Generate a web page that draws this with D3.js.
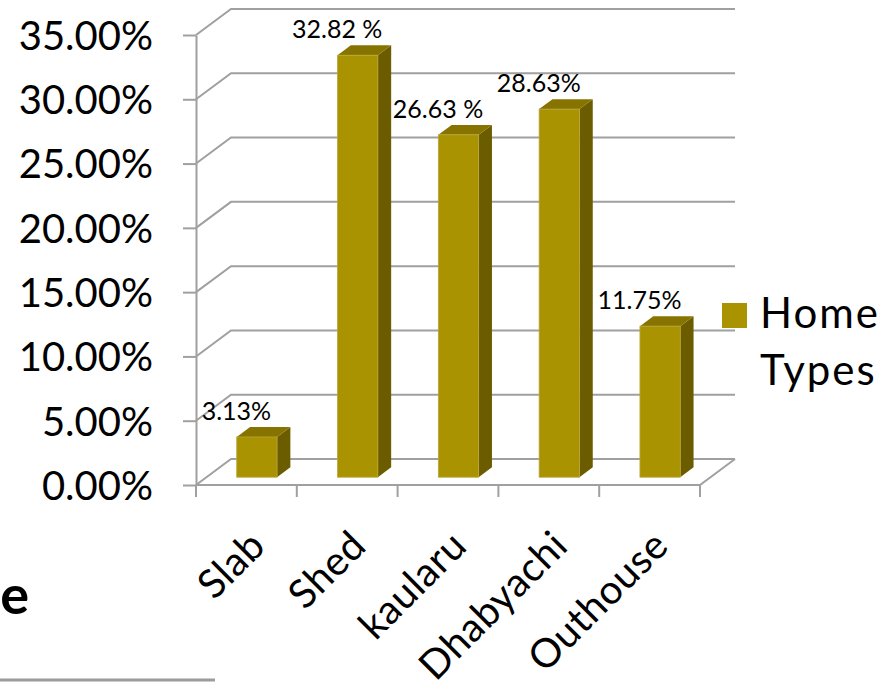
<!DOCTYPE html>
<html>
<head>
<meta charset="utf-8">
<script src="https://cdn.jsdelivr.net/npm/d3@7"></script>
<style>
  html, body { margin: 0; padding: 0; background: #fff; }
  svg { display: block; font-family: Lato, "Open Sans", sans-serif; }
</style>
</head>
<body>
<svg id="chart" width="886" height="690"></svg>
<script>
// Share of each home type
const categories = ["Slab", "Shed", "kaularu", "Dhabyachi", "Outhouse"];
const values = [3.13, 32.82, 26.63, 28.63, 11.75];
const valueLabels = ["3.13%", "32.82 %", "26.63 %", "28.63%", "11.75%"];
const yTicks = [0, 5, 10, 15, 20, 25, 30, 35];
const seriesName = ["Home", "Types"];

const svg = d3.select("#chart");

// Front plane of the 3-D plot box
const plotLeft = 196, plotRight = 700, plotBottom = 485, plotTop = 35;
// Offset of the back wall relative to the front plane
const depthX = 35, depthY = -26;

const x = d3.scaleBand().domain(categories).range([plotLeft, plotRight]).padding(0);
const y = d3.scaleLinear().domain([0, 35]).range([plotBottom, plotTop]);

const gridColor = "#a0a0a0";
const faceFront = "#a99300";
const faceTop = "#877400";
const faceSide = "#6c5c00";

// Projection: point on the front plane pushed back by a depth fraction
const px = (xv, d) => xv + depthX * d;
const py = (yv, d) => yv + depthY * d;

// Back wall gridlines with their side-wall diagonal
const grid = svg.append("g").attr("fill", "none").attr("stroke", gridColor).attr("stroke-width", 2);
yTicks.forEach(t => {
  const yy = y(t);
  grid.append("path").attr("d",
    `M${plotLeft},${yy} L${px(plotLeft, 1)},${py(yy, 1)} L${px(plotRight, 1)},${py(yy, 1)}`);
});
// Floor outline
grid.append("path").attr("d",
  `M${plotLeft},${plotBottom} L${plotRight},${plotBottom} L${px(plotRight, 1)},${py(plotBottom, 1)}`);

// Y axis
const yAxis = d3.axisLeft(y)
  .tickValues(yTicks)
  .tickFormat(d => d.toFixed(2) + "%")
  .tickSize(13)
  .tickSizeOuter(0)
  .tickPadding(30);
const gy = svg.append("g").attr("transform", `translate(${plotLeft},0)`).call(yAxis);
gy.select(".domain").attr("stroke", gridColor).attr("stroke-width", 2);
gy.selectAll(".tick line").attr("stroke", gridColor).attr("stroke-width", 2);
gy.selectAll(".tick text")
  .attr("font-family", "Lato, sans-serif")
  .attr("font-size", 40)
  .attr("fill", "#000")
  .attr("dy", "0.36em");

// X axis ticks at category boundaries
const bounds = categories.map(c => x(c)).concat([x(categories[categories.length - 1]) + x.bandwidth()]);
svg.append("g").selectAll("line").data(bounds).join("line")
  .attr("x1", d => d).attr("x2", d => d)
  .attr("y1", plotBottom).attr("y2", plotBottom + 12)
  .attr("stroke", gridColor).attr("stroke-width", 2);

// Rotated category labels
svg.append("g").selectAll("text").data(categories).join("text")
  .attr("transform", d => `translate(${x(d) + x.bandwidth() / 2 + 21},${plotBottom + 63}) rotate(-45)`)
  .attr("text-anchor", "end")
  .attr("font-size", 40)
  .attr("letter-spacing", 0.5)
  .attr("fill", "#000")
  .text(d => d);

// 3-D bars
const barFrac = 0.4;              // share of the slot used by a bar
const dFront = 0.3, dBack = 0.68; // bar depth range inside the box
const bars = svg.append("g");
categories.forEach((c, i) => {
  const w = x.bandwidth() * barFrac;
  const x0 = px(x(c) + (x.bandwidth() - w) / 2, dFront);
  const x1 = x0 + w;
  const y0 = py(y(0), dFront);
  const y1 = py(y(values[i]), dFront);
  const ddx = depthX * (dBack - dFront);
  const ddy = depthY * (dBack - dFront);
  const g = bars.append("g");
  // side face
  g.append("path").attr("fill", faceSide)
    .attr("d", `M${x1},${y1} L${x1 + ddx},${y1 + ddy} L${x1 + ddx},${y0 + ddy} L${x1},${y0} Z`);
  // top face
  g.append("path").attr("fill", faceTop)
    .attr("d", `M${x0},${y1} L${x0 + ddx},${y1 + ddy} L${x1 + ddx},${y1 + ddy} L${x1},${y1} Z`);
  // front face
  g.append("rect").attr("fill", faceFront)
    .attr("stroke", "#b9a63a").attr("stroke-width", 0.8)
    .attr("x", x0).attr("y", y1).attr("width", w).attr("height", y0 - y1);
  // value label above the bar
  g.append("text")
    .attr("x", x(c) + x.bandwidth() / 2 - 10)
    .attr("y", y1 + ddy - 7)
    .attr("text-anchor", "middle")
    .attr("font-size", 25)
    .attr("fill", "#000")
    .text(valueLabels[i]);
});

// Legend
const legend = svg.append("g");
legend.append("rect").attr("x", 722).attr("y", 303).attr("width", 25).attr("height", 25).attr("fill", faceFront);
legend.append("text").attr("x", 760).attr("y", 328)
  .attr("font-size", 42).attr("letter-spacing", 2).attr("fill", "#000")
  .selectAll("tspan").data(seriesName).join("tspan")
  .attr("x", 760).attr("dy", (d, i) => i === 0 ? 0 : 57)
  .text(d => d);

// Fragment of the slide title and its rule at the lower left
svg.append("text").attr("x", 29).attr("y", 614)
  .attr("text-anchor", "end").attr("font-size", 54).attr("font-weight", "bold")
  .attr("fill", "#000").text("e");
svg.append("line").attr("x1", 0).attr("x2", 215).attr("y1", 680).attr("y2", 680)
  .attr("stroke", "#9c9c9c").attr("stroke-width", 3);
</script>
</body>
</html>
